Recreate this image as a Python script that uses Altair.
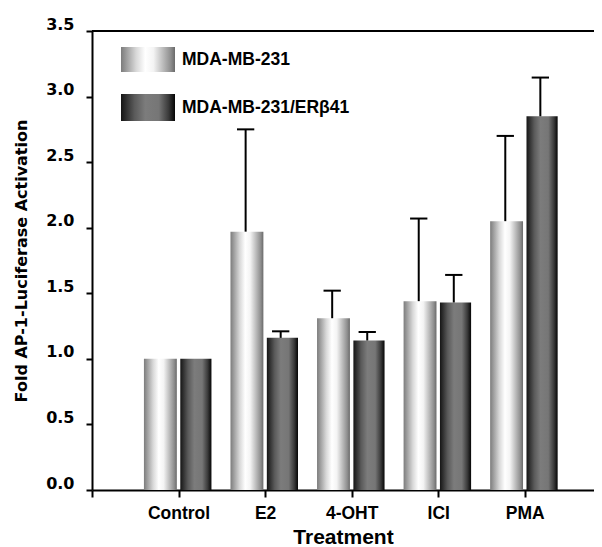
import json
import altair as alt
import pandas as pd

treatments = ["Control", "E2", "4-OHT", "ICI", "PMA"]
series_names = ["MDA-MB-231", "MDA-MB-231/ERβ41"]
parental_mean = [1.00, 1.97, 1.31, 1.44, 2.05]
parental_err = [0.00, 0.78, 0.21, 0.63, 0.65]
erb41_mean = [1.00, 1.16, 1.14, 1.43, 2.85]
erb41_err = [0.00, 0.05, 0.065, 0.21, 0.295]
y_ticks = [0.0, 0.5, 1.0, 1.5, 2.0, 2.5, 3.0, 3.5]

rows = []
for i, t in enumerate(treatments):
    rows.append(dict(treatment=t, pos=i + 1, series=series_names[0],
                     value=parental_mean[i], err=parental_err[i]))
    rows.append(dict(treatment=t, pos=i + 1, series=series_names[1],
                     value=erb41_mean[i], err=erb41_err[i]))
df = pd.DataFrame(rows)

FONT = "Liberation Sans"
YFONT = "DejaVu Sans"
W, H = 502, 459

light_grad = alt.Gradient(
    gradient="linear", x1=0, x2=1, y1=0, y2=0,
    stops=[alt.GradientStop(color="#7c7c7c", offset=0),
           alt.GradientStop(color="#d8d8d8", offset=0.28),
           alt.GradientStop(color="#ffffff", offset=0.45),
           alt.GradientStop(color="#f4f4f4", offset=0.6),
           alt.GradientStop(color="#8e8e8e", offset=0.92),
           alt.GradientStop(color="#6a6a6a", offset=1)])
dark_grad = alt.Gradient(
    gradient="linear", x1=0, x2=1, y1=0, y2=0,
    stops=[alt.GradientStop(color="#151515", offset=0),
           alt.GradientStop(color="#5a5a5a", offset=0.25),
           alt.GradientStop(color="#7c7c7c", offset=0.45),
           alt.GradientStop(color="#767676", offset=0.7),
           alt.GradientStop(color="#3a3a3a", offset=0.88),
           alt.GradientStop(color="#050505", offset=1)])

xscale = alt.Scale(domain=[0, 5.8], nice=False, zero=False)
yscale = alt.Scale(domain=[0, 3.5], nice=False)

label_expr = json.dumps([""] + treatments) + "[datum.value]"
x_axis = alt.Axis(values=[0, 1, 2, 3, 4, 5], labelExpr=label_expr, title="Treatment",
                  grid=False, domainColor="black", domainWidth=2, tickColor="black",
                  tickWidth=2, tickSize=7, labelFont=FONT, labelFontSize=17.5,
                  labelFontWeight="bold", labelColor="black", labelPadding=7,
                  titleFont=FONT, titleFontSize=21, titleFontWeight="bold",
                  titleColor="black", titlePadding=5)
y_axis = alt.Axis(values=y_ticks, format=".1f", title="Fold AP-1-Luciferase Activation",
                  grid=False, domainColor="black", domainWidth=2, tickColor="black",
                  tickWidth=2, tickSize=6, labelFont=YFONT, labelFontSize=16,
                  labelFontWeight="bold", labelColor="black", labelPadding=12,
                  labelBaseline="alphabetic", labelOffset=-2,
                  titleFont=YFONT, titleFontSize=16, titleFontWeight="bold",
                  titleColor="black", titlePadding=16)

base = alt.Chart(df)

light = base.transform_filter(alt.datum.series == series_names[0]).transform_calculate(
    x0="datum.pos - 0.40", x1="datum.pos - 0.02").mark_rect(color=light_grad).encode(
    x=alt.X("x0:Q", scale=xscale, axis=x_axis), x2="x1:Q",
    y=alt.Y("value:Q", scale=yscale, axis=y_axis), y2=alt.datum(0))

dark = base.transform_filter(alt.datum.series == series_names[1]).transform_calculate(
    x0="datum.pos + 0.02", x1="datum.pos + 0.38").mark_rect(color=dark_grad).encode(
    x=alt.X("x0:Q", scale=xscale), x2="x1:Q",
    y=alt.Y("value:Q", scale=yscale), y2=alt.datum(0))

errs = base.transform_filter(alt.datum.err > 0).transform_calculate(
    ex="datum.series == '" + series_names[0] + "' ? datum.pos - 0.225 : datum.pos + 0.18",
    top="datum.value + datum.err",
    cx0="datum.ex - 0.1", cx1="datum.ex + 0.1")

stems = errs.mark_rule(color="black", strokeWidth=2).encode(
    x=alt.X("ex:Q", scale=xscale), y=alt.Y("value:Q", scale=yscale), y2="top:Q")
caps = errs.mark_rule(color="black", strokeWidth=2).encode(
    x=alt.X("cx0:Q", scale=xscale), x2="cx1:Q", y=alt.Y("top:Q", scale=yscale))

top_line = alt.Chart(pd.DataFrame({"y": [3.5]})).mark_rule(
    color="black", strokeWidth=2).encode(y=alt.Y("y:Q", scale=yscale))

leg_df = pd.DataFrame({"series": series_names})
leg_light = alt.Chart(leg_df.iloc[[0]]).mark_rect(color=light_grad).encode(
    x=alt.value(29), x2=alt.value(83), y=alt.value(16), y2=alt.value(41))
leg_dark = alt.Chart(leg_df.iloc[[1]]).mark_rect(color=dark_grad).encode(
    x=alt.value(29), x2=alt.value(83), y=alt.value(63), y2=alt.value(90))
leg_text1 = alt.Chart(leg_df.iloc[[0]]).mark_text(
    align="left", baseline="middle", font=FONT, fontSize=17.5, fontWeight="bold",
    color="black").encode(x=alt.value(90), y=alt.value(29), text="series:N")
leg_text2 = alt.Chart(leg_df.iloc[[1]]).mark_text(
    align="left", baseline="middle", font=FONT, fontSize=17.5, fontWeight="bold",
    color="black").encode(x=alt.value(90), y=alt.value(77), text="series:N")

chart = alt.layer(top_line, light, dark, stems, caps,
                  leg_light, leg_dark, leg_text1, leg_text2).properties(
    width=W, height=H,
    autosize=alt.AutoSizeParams(type="none"),
    padding={"left": 84, "top": 23, "right": 0, "bottom": 60},
    background="white",
).configure_view(stroke=None)

chart.save("out.html", embed_options={"renderer": "svg", "actions": False})
